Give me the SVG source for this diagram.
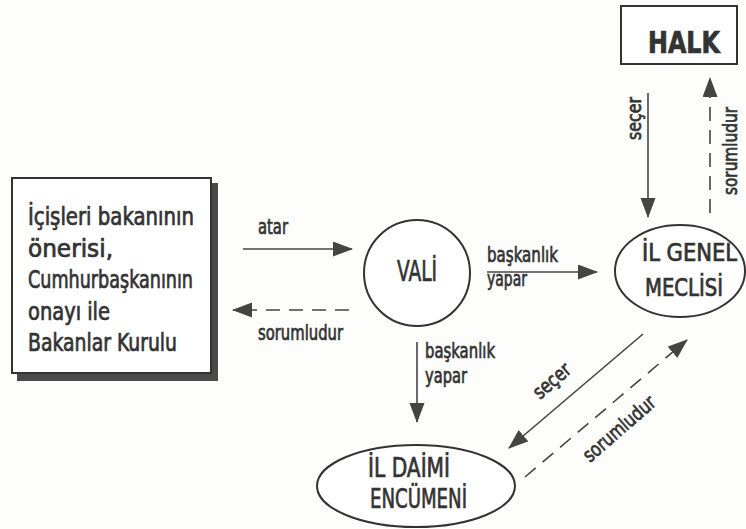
<svg xmlns="http://www.w3.org/2000/svg" width="746" height="529" viewBox="0 0 746 529">
<defs>
<marker id="ah" markerUnits="userSpaceOnUse" markerWidth="20" markerHeight="16" refX="19" refY="7.5" orient="auto">
<path d="M0,0 L20,7.5 L0,15 z" fill="#444"/>
</marker>
<style>
.t{font-family:"DejaVu Sans Condensed","DejaVu Sans",sans-serif;fill:#333;stroke:#333;stroke-width:0.7}
.ln{stroke:#444;stroke-width:1.6;fill:none}
.ds{stroke:#444;stroke-width:1.6;fill:none;stroke-dasharray:14 9}
.nd{stroke:#333;stroke-width:2;fill:#fff}
</style>
</defs>
<rect width="746" height="529" fill="#fdfdfc"/>
<g id="bakanlar">
<rect x="17" y="183" width="201" height="198" fill="#4a4a4a"/>
<rect x="12" y="178" width="199" height="195" class="nd"/>
<text class="t" font-size="24" x="28" y="225" textLength="166" lengthAdjust="spacingAndGlyphs">İçişleri bakanının</text>
<text class="t" font-size="24" x="28" y="257" textLength="85" lengthAdjust="spacingAndGlyphs">önerisi,</text>
<text class="t" font-size="24" x="28" y="288" textLength="165" lengthAdjust="spacingAndGlyphs">Cumhurbaşkanının</text>
<text class="t" font-size="24" x="28" y="320" textLength="82" lengthAdjust="spacingAndGlyphs">onayı ile</text>
<text class="t" font-size="24" x="28" y="351" textLength="149" lengthAdjust="spacingAndGlyphs">Bakanlar Kurulu</text>
</g>
<g id="vali">
<circle cx="417" cy="273" r="53" class="nd"/>
<text class="t" font-size="29" x="397" y="281" textLength="40" lengthAdjust="spacingAndGlyphs">VALİ</text>
</g>
<g id="halk">
<rect x="621" y="6" width="116" height="58" class="nd"/>
<text class="t" font-size="30" font-weight="bold" x="648" y="53" textLength="72" lengthAdjust="spacingAndGlyphs">HALK</text>
</g>
<g id="ilgenel">
<ellipse cx="680" cy="271" rx="65" ry="46" class="nd"/>
<text class="t" font-size="24" x="642" y="261" textLength="95" lengthAdjust="spacingAndGlyphs">İL GENEL</text>
<text class="t" font-size="24" x="645" y="296" textLength="78" lengthAdjust="spacingAndGlyphs">MECLİSİ</text>
</g>
<g id="ildaimi">
<ellipse cx="416" cy="486" rx="99" ry="41" class="nd"/>
<text class="t" font-size="27" x="368" y="477" textLength="82" lengthAdjust="spacingAndGlyphs">İL DAİMİ</text>
<text class="t" font-size="27" x="370" y="508" textLength="97" lengthAdjust="spacingAndGlyphs">ENCÜMENİ</text>
</g>
<g id="connectors">
<line x1="243" y1="249" x2="352" y2="249" class="ln" marker-end="url(#ah)"/>
<line x1="349" y1="310" x2="233" y2="310" class="ds" marker-end="url(#ah)"/>
<line x1="487" y1="272" x2="597" y2="272" class="ln" marker-end="url(#ah)"/>
<line x1="417" y1="342" x2="417" y2="422" class="ln" marker-end="url(#ah)"/>
<line x1="648" y1="93" x2="648" y2="217" class="ln" marker-end="url(#ah)"/>
<line x1="710" y1="213" x2="710" y2="78" class="ds" marker-end="url(#ah)"/>
<line x1="643" y1="334" x2="509" y2="448" class="ln" marker-end="url(#ah)"/>
<line x1="525" y1="477" x2="687" y2="340" class="ds" marker-end="url(#ah)"/>
</g>
<g id="labels">
<text class="t" font-size="21" x="258" y="234" textLength="30" lengthAdjust="spacingAndGlyphs">atar</text>
<text class="t" font-size="21" x="258" y="340" textLength="85" lengthAdjust="spacingAndGlyphs">sorumludur</text>
<text class="t" font-size="21" x="487" y="262" textLength="71" lengthAdjust="spacingAndGlyphs">başkanlık</text>
<text class="t" font-size="21" x="487" y="286" textLength="40" lengthAdjust="spacingAndGlyphs">yapar</text>
<text class="t" font-size="21" x="425" y="358" textLength="70" lengthAdjust="spacingAndGlyphs">başkanlık</text>
<text class="t" font-size="21" x="425" y="383" textLength="42" lengthAdjust="spacingAndGlyphs">yapar</text>
<text class="t" font-size="20" transform="translate(641,140) rotate(-90)" textLength="43" lengthAdjust="spacingAndGlyphs">seçer</text>
<text class="t" font-size="20" transform="translate(737,195) rotate(-90)" textLength="88" lengthAdjust="spacingAndGlyphs">sorumludur</text>
<text class="t" font-size="20" transform="translate(540,400) rotate(-41)" textLength="43" lengthAdjust="spacingAndGlyphs">seçer</text>
<text class="t" font-size="20" transform="translate(590,463) rotate(-41)" textLength="89" lengthAdjust="spacingAndGlyphs">sorumludur</text>
</g>
</svg>
